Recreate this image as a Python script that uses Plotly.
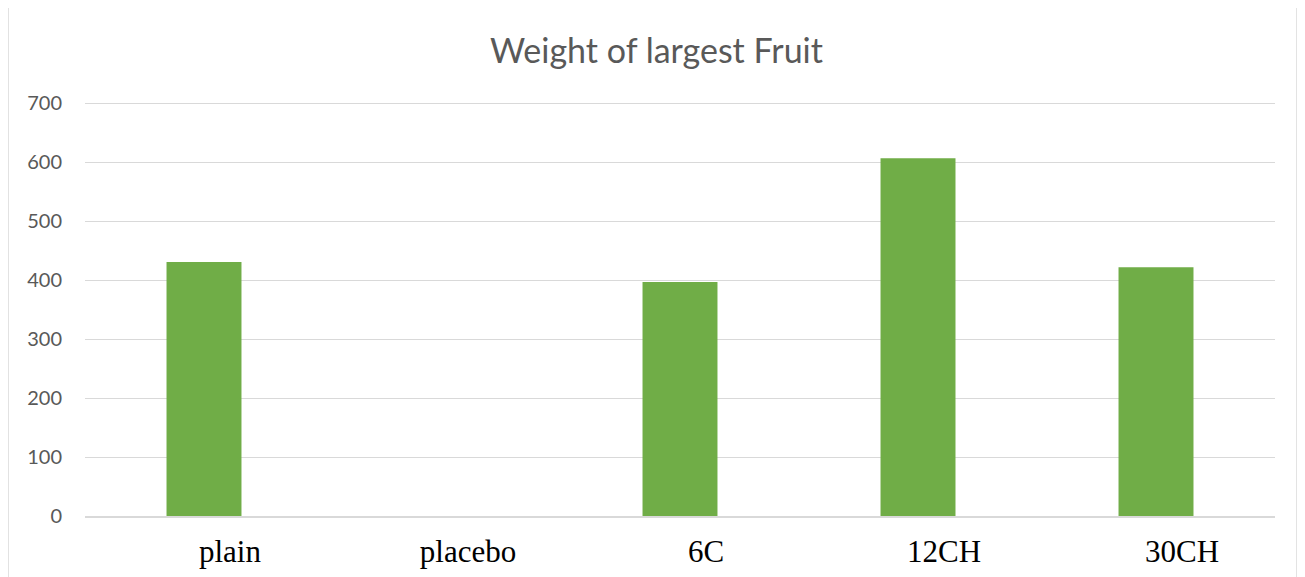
import plotly.graph_objects as go

categories = ["plain", "placebo", "6C", "12CH", "30CH"]
weights = [431, 0, 397, 607, 422]
y_ticks = [0, 100, 200, 300, 400, 500, 600, 700]

fig = go.Figure(go.Bar(x=categories, y=weights, marker_color="#70AD47", marker_line_width=0))

fig.update_layout(
    width=1297, height=569,
    margin=dict(l=77, r=30, t=93, b=61, autoexpand=False),
    paper_bgcolor="white", plot_bgcolor="white",
    bargap=0.685,
    showlegend=False,
    title=dict(text="Weight of largest Fruit", x=0.5, xanchor="center", y=0.925, yanchor="middle",
               font=dict(family="Lato", size=34, color="#595959")),
    font=dict(family="Lato", color="#595959"),
)
fig.update_yaxes(range=[0, 704], tickvals=y_ticks, showgrid=True, gridcolor="#d9d9d9", gridwidth=1,
                 zeroline=False, showline=False, ticks="", automargin=False,
                 tickfont=dict(family="Lato", size=20, color="#595959"),
                 ticklabelstandoff=22)
fig.update_xaxes(showline=True, linecolor="#d9d9d9", linewidth=1.5, ticks="", automargin=False,
                 tickfont=dict(family="Liberation Serif", size=31, color="#000000"),
                 ticklabelshift=26, ticklabelstandoff=7)
fig.add_shape(type="rect", xref="paper", yref="paper", x0=-0.0647, x1=1.0185, y0=-0.2, y1=1.229,
              line=dict(color="#d9d9d9", width=1.5), fillcolor="rgba(0,0,0,0)", layer="below")

fig.write_html("out.html")
